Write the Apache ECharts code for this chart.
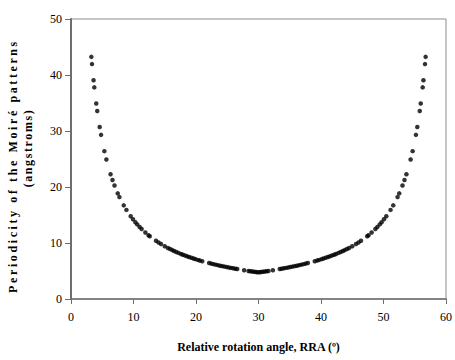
<!DOCTYPE html>
<html>
<head>
<meta charset="utf-8">
<script src="https://cdn.jsdelivr.net/npm/echarts@6/dist/echarts.min.js"></script>
<style>html,body{margin:0;padding:0;background:#fff;}#c{width:455px;height:360px;}</style>
</head>
<body>
<div id="c"></div>
<script>
// Relative rotation angle (degrees)
const angles = [
  3.26, 3.36, 3.61, 3.73, 4.04, 4.20, 4.59, 4.81, 5.34, 5.66, 6.33, 6.64, 6.96, 7.48, 7.75,
  8.44, 8.87, 9.55, 9.92, 10.30, 10.60, 10.98, 11.30, 11.90, 12.40, 12.60, 13.60, 14.00, 14.40,
  15.00, 15.50, 15.85, 16.20, 16.50, 16.85, 17.20, 17.60, 17.90, 18.25, 18.60, 18.90, 19.25,
  19.60, 19.90, 20.30, 20.60, 21.00, 22.10, 22.45, 22.80, 23.15, 23.50, 23.85, 24.20, 24.55,
  24.90, 25.25, 25.60, 25.95, 26.30, 26.60, 27.70, 28.40, 28.70, 29.00, 29.30, 29.60, 29.85,
  30.15, 30.40, 30.70, 31.00, 31.30, 31.60, 32.30, 33.40, 33.70, 34.05, 34.40, 34.75, 35.10,
  35.45, 35.80, 36.15, 36.50, 36.85, 37.20, 37.55, 37.90, 39.00, 39.40, 39.70, 40.10, 40.40,
  40.75, 41.10, 41.40, 41.75, 42.10, 42.40, 42.80, 43.15, 43.50, 43.80, 44.15, 44.50, 45.00,
  45.60, 46.00, 46.40, 47.40, 47.60, 48.10, 48.70, 49.02, 49.40, 49.70, 50.08, 50.45, 51.13,
  51.56, 52.25, 52.52, 53.04, 53.36, 53.67, 54.34, 54.66, 55.19, 55.41, 55.80, 55.96, 56.27,
  56.39, 56.64, 56.74
];
// Periodicity of the Moiré patterns (angstroms)
const periodicity = [
  43.24, 41.95, 39.05, 37.79, 34.90, 33.57, 30.72, 29.31, 26.40, 24.91, 22.28, 21.24, 20.26, 18.86, 18.20,
  16.72, 15.91, 14.78, 14.23, 13.70, 13.32, 12.86, 12.49, 11.87, 11.39, 11.21, 10.39, 10.09, 9.81,
  9.42, 9.12, 8.92, 8.73, 8.57, 8.40, 8.23, 8.04, 7.91, 7.76, 7.61, 7.49, 7.36,
  7.23, 7.12, 6.98, 6.88, 6.75, 6.42, 6.32, 6.22, 6.13, 6.04, 5.95, 5.87, 5.79,
  5.71, 5.63, 5.55, 5.48, 5.41, 5.35, 5.14, 5.01, 4.96, 4.91, 4.86, 4.82, 4.78,
  4.78, 4.82, 4.86, 4.91, 4.96, 5.01, 5.14, 5.35, 5.41, 5.48, 5.55, 5.63, 5.71,
  5.79, 5.87, 5.95, 6.04, 6.13, 6.22, 6.32, 6.42, 6.75, 6.88, 6.98, 7.12, 7.23,
  7.36, 7.49, 7.61, 7.76, 7.91, 8.04, 8.23, 8.40, 8.57, 8.73, 8.92, 9.12, 9.42,
  9.81, 10.09, 10.39, 11.21, 11.39, 11.87, 12.49, 12.86, 13.32, 13.70, 14.23, 14.78, 15.91,
  16.72, 18.20, 18.86, 20.26, 21.24, 22.28, 24.91, 26.40, 29.31, 30.72, 33.57, 34.90, 37.79,
  39.05, 41.95, 43.24
];
const xTicks = [0, 10, 20, 30, 40, 50, 60];
const yTicks = [0, 10, 20, 30, 40, 50];
const xTitle = 'Relative rotation angle, RRA (º)';
const yTitle1 = 'Periodicity of the Moiré patterns';
const yTitle2 = '(angstroms)';

const serif = "'Liberation Serif', 'Times New Roman', serif";
const points = angles.map((a, i) => [a, periodicity[i]]);

const chart = echarts.init(document.getElementById('c'), null, {renderer: 'svg'});
chart.setOption({
  animation: false,
  backgroundColor: '#fff',
  grid: {left: 71, right: 7, top: 19, bottom: 61, show: true, borderColor: '#8c8c8c', borderWidth: 1, backgroundColor: 'transparent'},
  xAxis: {
    type: 'value', min: xTicks[0], max: xTicks[xTicks.length - 1], interval: 10,
    axisLine: {show: true, onZero: false, lineStyle: {color: '#6e6e6e', width: 1.5}},
    axisTick: {show: true, length: 5, lineStyle: {color: '#6e6e6e'}},
    axisLabel: {color: '#000', fontFamily: serif, fontSize: 12, margin: 12},
    splitLine: {show: false},
    name: xTitle, nameLocation: 'middle', nameGap: 42,
    nameTextStyle: {color: '#000', fontFamily: serif, fontSize: 12, fontWeight: 'bold'}
  },
  yAxis: {
    type: 'value', min: yTicks[0], max: yTicks[yTicks.length - 1], interval: 10,
    axisLine: {show: true, lineStyle: {color: '#6e6e6e', width: 2}},
    axisTick: {show: true, length: 6, lineStyle: {color: '#6e6e6e'}},
    axisLabel: {color: '#000', fontFamily: serif, fontSize: 12, margin: 9},
    splitLine: {show: false}
  },
  graphic: [
    {type: 'text', id: 'yt1', x: 13, y: 166, rotation: Math.PI / 2,
     style: {text: yTitle1, fill: '#000', font: "bold 12px " + serif, textAlign: 'center', textVerticalAlign: 'middle'}},
    {type: 'text', id: 'yt2', x: 28, y: 148, rotation: Math.PI / 2,
     style: {text: yTitle2, fill: '#000', font: "bold 12px " + serif, textAlign: 'center', textVerticalAlign: 'middle'}}
  ],
  series: [{
    type: 'scatter', data: points, symbol: 'circle', symbolSize: 4.5,
    itemStyle: {color: '#000'}
  }]
});

function spacing() {
  document.querySelectorAll('#c text').forEach(t => {
    if (t.textContent === yTitle1) t.setAttribute('letter-spacing', '2.6px');
    if (t.textContent === yTitle2) t.setAttribute('letter-spacing', '1.6px');
  });
}
chart.on('finished', spacing);
spacing();
setTimeout(spacing, 0);
</script>
</body>
</html>
